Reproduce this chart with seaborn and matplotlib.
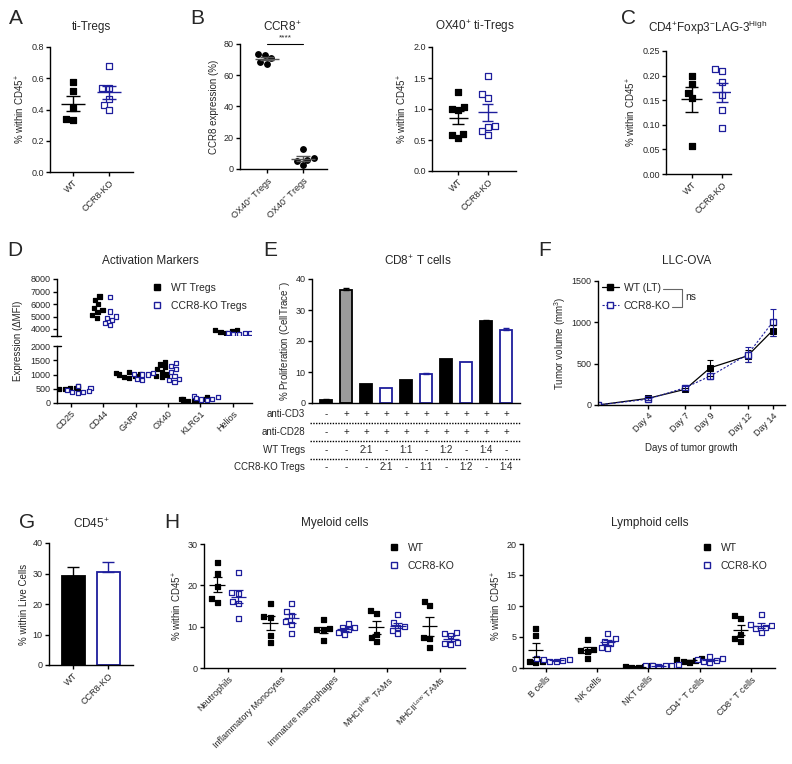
import numpy as np
import pandas as pd
import matplotlib
matplotlib.use("Agg")
import matplotlib.pyplot as plt
from matplotlib.lines import Line2D
from matplotlib.ticker import FormatStrFormatter
from matplotlib.transforms import blended_transform_factory
import seaborn as sns

# ---------------------------------------------------------------- data
GROUPS = ["WT", "CCR8-KO"]

ti_tregs_wt = [0.575, 0.52, 0.41, 0.335, 0.34]
ti_tregs_ko = [0.68, 0.54, 0.535, 0.47, 0.43, 0.40]

ccr8_labels = ["OX40$^{+}$ Tregs", "OX40$^{-}$ Tregs"]
ccr8_pos = [73.5, 72.8, 71.0, 68.5, 67.5]
ccr8_neg = [12.5, 7.0, 6.0, 5.0, 2.5]

ox40_wt = [1.28, 1.04, 0.99, 1.0, 0.58, 0.53, 0.6]
ox40_ko = [1.54, 1.25, 1.18, 0.72, 0.71, 0.65, 0.58]

lag3_wt = [0.199, 0.183, 0.165, 0.154, 0.057]
lag3_ko = [0.213, 0.21, 0.188, 0.16, 0.131, 0.093]

act_markers = ["CD25", "CD44", "GARP", "OX40", "KLRG1", "Helios"]
act_wt = [
    [600, 560, 540, 520, 500, 480, 530, 510],
    [6600, 6350, 6000, 5700, 5550, 5350, 5150, 4900],
    [1100, 1050, 1000, 950, 900, 880, 1000],
    [1450, 1350, 1250, 1200, 1100, 1000, 950, 900],
    [200, 150, 120, 100, 80, 130, 60],
    [3950, 3900, 3800, 3750, 3700],
]
act_ko = [
    [600, 520, 450, 400, 380, 350, 420],
    [6550, 5400, 5000, 4900, 4700, 4500, 4300],
    [1050, 1000, 1000, 1020, 800, 850],
    [1400, 1300, 1200, 1100, 950, 850, 800, 750],
    [250, 200, 180, 150, 120, 100],
    [3650, 3650, 3600, 3650, 3600],
]

prolif_values = [1.0, 36.5, 6.0, 5.0, 7.3, 9.5, 14.3, 13.2, 26.5, 23.5]
prolif_err = [0.2, 0.6, 0, 0, 0, 0.3, 0, 0, 0.3, 0.8]
prolif_kind = ["ctrl", "stim", "wt", "ko", "wt", "ko", "wt", "ko", "wt", "ko"]
table_rows = ["anti-CD3", "anti-CD28", "WT Tregs", "CCR8-KO Tregs"]
anti_cd3 = ["-", "+", "+", "+", "+", "+", "+", "+", "+", "+"]
anti_cd28 = ["-", "+", "+", "+", "+", "+", "+", "+", "+", "+"]
wt_tregs = ["-", "-", "2:1", "-", "1:1", "-", "1:2", "-", "1:4", "-"]
ko_tregs = ["-", "-", "-", "2:1", "-", "1:1", "-", "1:2", "-", "1:4"]

days = [0, 4, 7, 9, 12, 14]
vol_wt = [0, 80, 190, 450, 595, 900]
vol_wt_err = [0, 20, 20, 100, 70, 70]
vol_ko = [0, 70, 210, 350, 610, 1000]
vol_ko_err = [0, 15, 25, 40, 90, 165]

cd45_mean = [29.3, 30.5]
cd45_err = [2.8, 3.2]

myeloid_cells = ["Neutrophils", "Inflammatory Monocytes", "Immature macrophages",
                 "MHCII$^{High}$ TAMs", "MHCII$^{Low}$ TAMs"]
myeloid_wt = [
    [25.5, 22.8, 19.6, 16.7, 15.9],
    [15.5, 12.4, 12.2, 7.9, 6.1],
    [11.7, 9.5, 9.2, 9.0, 6.6],
    [13.9, 13.2, 8.2, 7.3, 6.4],
    [16.0, 15.1, 7.4, 7.1, 4.9],
]
myeloid_ko = [
    [23.2, 18.3, 18.1, 16.2, 15.7, 11.9],
    [15.5, 13.7, 12.8, 11.2, 10.5, 8.3],
    [10.8, 9.9, 9.7, 8.6, 8.0, 9.2],
    [13.0, 11.1, 10.1, 9.9, 9.1, 8.3],
    [8.5, 8.4, 7.9, 6.1, 5.7, 5.9],
]

lymphoid_cells = ["B cells", "NK cells", "NKT cells", "CD4$^{+}$ T cells", "CD8$^{+}$ T cells"]
lymphoid_wt = [
    [6.3, 5.2, 1.1, 1.0, 0.9],
    [4.6, 3.0, 2.8, 2.7, 1.5],
    [0.4, 0.3, 0.2, 0.15, 0.1],
    [1.6, 1.4, 1.2, 1.1, 0.9],
    [8.4, 8.0, 5.4, 4.7, 4.2],
]
lymphoid_ko = [
    [1.5, 1.4, 1.3, 1.2, 1.0, 1.1],
    [5.5, 4.7, 4.3, 4.0, 3.3, 3.1],
    [0.5, 0.45, 0.4, 0.35, 0.3, 0.4],
    [1.9, 1.5, 1.3, 1.2, 1.0, 0.9],
    [8.6, 7.0, 6.8, 6.6, 6.3, 5.8],
]

# ---------------------------------------------------------------- style
BLUE = "#1e1e9c"
FACE = {"ctrl": "black", "stim": "#9b9b9b", "wt": "black", "ko": "white"}
EDGE = {"ctrl": "black", "stim": "black", "wt": "black", "ko": BLUE}

sns.set_style("ticks")
plt.rcParams["font.family"] = ["Liberation Sans", "DejaVu Sans"]
plt.rcParams["mathtext.fontset"] = "custom"
plt.rcParams["mathtext.rm"] = "Liberation Sans"
plt.rcParams["mathtext.it"] = "Liberation Sans:italic"
plt.rcParams["mathtext.bf"] = "Liberation Sans:bold"
plt.rcParams["mathtext.default"] = "regular"

W, H = 792, 764
fig = plt.figure(figsize=(W / 100, H / 100), dpi=100)


def box(x0, y0, x1, y1):
    # pixel rectangle (top-left origin) -> figure fraction
    return [x0 / W, 1 - y1 / H, (x1 - x0) / W, (y1 - y0) / H]


def ftext(x, y, s, **kw):
    kw.setdefault("ha", "center")
    kw.setdefault("va", "center")
    fig.text(x / W, 1 - y / H, s, **kw)


def fline(xs, ys, **kw):
    fig.add_artist(Line2D([x / W for x in xs], [1 - y / H for y in ys], **kw))


def prism(ax, ylim, yticks, xlim=None):
    sns.despine(ax=ax)
    ax.set_ylim(*ylim)
    ax.set_yticks(yticks)
    if xlim is not None:
        ax.set_xlim(*xlim)
    ax.set_xlabel("")
    ax.tick_params(axis="both", length=3, width=1, labelsize=6.5, pad=1.5, color="black")
    for s in ("left", "bottom"):
        ax.spines[s].set_linewidth(1.0)
        ax.spines[s].set_color("black")


def rot(ax):
    plt.setp(ax.get_xticklabels(), rotation=45, ha="right", rotation_mode="anchor")


def mean_sem(ax, x, vals, color, half=0.33, cap=0.2, lw=1.0):
    m = np.mean(vals)
    s = np.std(vals, ddof=1) / np.sqrt(len(vals))
    ax.hlines(m, x - half, x + half, color=color, lw=lw, zorder=5)
    ax.vlines(x, m - s, m + s, color=color, lw=lw, zorder=5)
    ax.hlines([m - s, m + s], x - cap, x + cap, color=color, lw=lw, zorder=5)


def group_swarm(ax, labels, first, second, marker="s", open_second=True,
                size=3.8, mean_colors=("black", BLUE)):
    styles = [("black", "black"), ("white", BLUE) if open_second else ("black", "black")]
    df = pd.DataFrame({"grp": [labels[0]] * len(first) + [labels[1]] * len(second),
                       "val": list(first) + list(second)})
    for lab, (face, edge) in zip(labels, styles):
        sns.swarmplot(data=df[df.grp == lab], x="grp", y="val", order=labels,
                      color=face, edgecolor=edge, linewidth=0.9, marker=marker,
                      size=size, ax=ax)
    for i, vals in enumerate([first, second]):
        mean_sem(ax, i, vals, mean_colors[i])
    ax.set_ylabel("")


def long_df(cats, wt, ko):
    rows = []
    for c, a, b in zip(cats, wt, ko):
        rows += [(c, "WT", v) for v in a] + [(c, "CCR8-KO", v) for v in b]
    return pd.DataFrame(rows, columns=["cat", "grp", "val"])


def dodged_swarm(ax, df, cats, size=3.2):
    for grp, face, edge in [("WT", "black", "black"), ("CCR8-KO", "white", BLUE)]:
        sub = df[df.grp == grp]
        if sub.empty:
            continue
        sns.swarmplot(data=sub, x="cat", y="val", hue="grp", order=cats,
                      hue_order=GROUPS, palette={g: face for g in GROUPS},
                      dodge=True, marker="s", size=size, linewidth=0.9,
                      edgecolor=edge, legend=False, ax=ax)
    ax.set_ylabel("")


def square_legend(ax, x, y, labels, fontsize=7.5):
    handles = [Line2D([], [], marker="s", color="black", linestyle="none", markersize=4.3),
               Line2D([], [], marker="s", color=BLUE, markerfacecolor="white",
                      markeredgewidth=1, linestyle="none", markersize=4.3)]
    ax.legend(handles, labels, loc="upper left", bbox_to_anchor=(x / W, 1 - y / H),
              bbox_transform=fig.transFigure, frameon=False, fontsize=fontsize,
              handlelength=0.8, handletextpad=0.9, labelspacing=0.75,
              borderpad=0, borderaxespad=0)


TITLE = dict(fontsize=8.5)
LETTER = dict(fontsize=15)
YL = dict(fontsize=7, labelpad=3)

# ---------------------------------------------------------------- A
axA = fig.add_axes(box(50, 47, 133, 172))
group_swarm(axA, GROUPS, ti_tregs_wt, ti_tregs_ko)
prism(axA, (0, 0.8), np.arange(0, 0.81, 0.2), (-0.64, 1.67))
axA.yaxis.set_major_formatter(FormatStrFormatter("%.1f"))
rot(axA)
axA.set_ylabel("% within CD45$^{+}$", **YL)
ftext(91, 27, "ti-Tregs", **TITLE)
ftext(16, 19, "A", **LETTER)

# ---------------------------------------------------------------- B
axB1 = fig.add_axes(box(240, 44, 327, 169))
group_swarm(axB1, ccr8_labels, ccr8_pos, ccr8_neg, marker="o", open_second=False,
            size=4.0, mean_colors=("#555555", "#555555"))
prism(axB1, (0, 80), np.arange(0, 81, 20), (-0.75, 1.67))
rot(axB1)
axB1.set_ylabel("CCR8 expression (%)", **YL)
axB1.plot([0, 1], [80, 80], color="black", lw=0.8, clip_on=False)
axB1.text(0.5, 81.5, "****", ha="center", va="bottom", fontsize=6)
ftext(282, 27, "CCR8$^{+}$", **TITLE)
ftext(197, 19, "B", **LETTER)

axB2 = fig.add_axes(box(432, 47, 516, 171))
group_swarm(axB2, GROUPS, ox40_wt, ox40_ko)
prism(axB2, (0, 2.0), np.arange(0, 2.01, 0.5), (-0.9, 1.97))
axB2.yaxis.set_major_formatter(FormatStrFormatter("%.1f"))
rot(axB2)
axB2.set_ylabel("% within CD45$^{+}$", **YL)
ftext(475, 27, "OX40$^{+}$ ti-Tregs", **TITLE)

# ---------------------------------------------------------------- C
axC = fig.add_axes(box(666, 51, 731, 174))
group_swarm(axC, GROUPS, lag3_wt, lag3_ko)
prism(axC, (0, 0.25), np.arange(0, 0.251, 0.05), (-0.84, 1.3))
axC.yaxis.set_major_formatter(FormatStrFormatter("%.2f"))
rot(axC)
axC.set_ylabel("% within CD45$^{+}$", **YL)
ftext(708, 28, "CD4$^{+}$Foxp3$^{-}$LAG-3$^{High}$", **TITLE)
ftext(628, 19, "C", **LETTER)

# ---------------------------------------------------------------- D
df_act = long_df(act_markers, act_wt, act_ko)
axDu = fig.add_axes(box(57, 279, 252, 336))
axDl = fig.add_axes(box(57, 346, 252, 403))
dodged_swarm(axDu, df_act[df_act.val > 3000], act_markers, size=3.0)
dodged_swarm(axDl, df_act[df_act.val < 3000], act_markers, size=3.0)
prism(axDu, (3440, 8000), np.arange(4000, 8001, 1000), (-0.44, 5.6))
prism(axDl, (0, 2000), np.arange(0, 2001, 500), (-0.44, 5.6))
sns.despine(ax=axDu, bottom=True)
axDu.set_xticks([])
rot(axDl)
axDu.plot([-0.03, 0.02], [0, 0], transform=axDu.transAxes, color="black", lw=1, clip_on=False)
axDl.plot([0.0, 0.02], [1, 1], transform=axDl.transAxes, color="black", lw=1, clip_on=False)
ftext(18, 341, "Expression (ΔMFI)", rotation=90, fontsize=7)
square_legend(axDu, 153, 283, ["WT Tregs", "CCR8-KO Tregs"])
ftext(150, 261, "Activation Markers", **TITLE)
ftext(15, 251, "D", **LETTER)

# ---------------------------------------------------------------- E
axE = fig.add_axes(box(312, 279, 520, 403))
ids = [str(i) for i in range(len(prolif_values))]
sns.barplot(x=ids, y=prolif_values, hue=ids, palette=[FACE[k] for k in prolif_kind],
            width=0.62, legend=False, ax=axE)
for patch, k in zip(axE.patches, prolif_kind):
    patch.set_edgecolor(EDGE[k])
    patch.set_linewidth(1.3)
for i, (v, e, k) in enumerate(zip(prolif_values, prolif_err, prolif_kind)):
    if e > 0:
        axE.errorbar(i, v, yerr=[[0], [e]], fmt="none", ecolor=EDGE[k],
                     capsize=2.5, elinewidth=1, capthick=1)
prism(axE, (0, 40), np.arange(0, 41, 10), (-0.7, 9.7))
axE.set_xticks([])
axE.set_ylabel("% Proliferation (CellTrace$^{-}$)", **YL)
trans = blended_transform_factory(axE.transData, fig.transFigure)
for label, cells, y in zip(table_rows, [anti_cd3, anti_cd28, wt_tregs, ko_tregs],
                           [414, 432, 450, 467]):
    ftext(305, y, label, ha="right", fontsize=7)
    for i, c in enumerate(cells):
        axE.text(i, 1 - y / H, c, transform=trans, ha="center", va="center", fontsize=7)
for y in [423, 441, 459]:
    fline([310, 520], [y, y], color="black", lw=1, linestyle=(0, (1, 1)))
ftext(418, 261, "CD8$^{+}$ T cells", **TITLE)
ftext(270, 251, "E", **LETTER)

# ---------------------------------------------------------------- F
axF = fig.add_axes(box(598, 281, 785, 405))
sns.lineplot(x=days, y=vol_wt, color="black", marker="s", markersize=4,
             markeredgecolor="black", linewidth=0.9, errorbar=None, ax=axF)
sns.lineplot(x=days, y=vol_ko, color=BLUE, marker="s", markersize=4.5,
             markerfacecolor="white", markeredgecolor=BLUE, markeredgewidth=1,
             linestyle=(0, (2, 1.5)), linewidth=0.8, errorbar=None, ax=axF)
axF.errorbar(days, vol_wt, yerr=vol_wt_err, fmt="none", ecolor="black",
             capsize=2, elinewidth=0.8, capthick=0.8)
axF.errorbar(days, vol_ko, yerr=vol_ko_err, fmt="none", ecolor=BLUE,
             capsize=2, elinewidth=0.8, capthick=0.8)
prism(axF, (0, 1500), [0, 500, 1000, 1500], (0, 15))
axF.set_xticks(days[1:], [f"Day {d}" for d in days[1:]])
rot(axF)
axF.set_ylabel("Tumor volume (mm$^{3}$)", **YL)
axF.set_xlabel("Days of tumor growth", fontsize=7, labelpad=4)
f_handles = [Line2D([], [], color="black", marker="s", markersize=4, lw=0.9),
             Line2D([], [], color=BLUE, marker="s", markersize=4.5, lw=0.8,
                    markerfacecolor="white", markeredgewidth=1, linestyle=(0, (2, 1.5)))]
axF.legend(f_handles, ["WT (LT)", "CCR8-KO"], loc="upper left",
           bbox_to_anchor=(602 / W, 1 - 283 / H), bbox_transform=fig.transFigure,
           frameon=False, fontsize=7.5, handlelength=1.6, handletextpad=0.5,
           labelspacing=0.75, borderpad=0, borderaxespad=0)
fline([663, 682, 682, 672], [289, 289, 307, 307], color="#666666", lw=0.8)
ftext(685, 297, "ns", ha="left", fontsize=7.5)
ftext(687, 261, "LLC-OVA", **TITLE)
ftext(545, 251, "F", **LETTER)

# ---------------------------------------------------------------- G
axG = fig.add_axes(box(49, 543, 133, 665))
sns.barplot(x=GROUPS, y=cd45_mean, hue=GROUPS, palette=["black", "white"],
            width=0.66, legend=False, ax=axG)
for patch, edge in zip(axG.patches, ["black", BLUE]):
    patch.set_edgecolor(edge)
    patch.set_linewidth(1.3)
for i, (v, e, edge) in enumerate(zip(cd45_mean, cd45_err, ["black", BLUE])):
    axG.errorbar(i, v, yerr=[[0], [e]], fmt="none", ecolor=edge,
                 capsize=4, elinewidth=1, capthick=1)
prism(axG, (0, 40), np.arange(0, 41, 10), (-0.69, 1.71))
rot(axG)
axG.set_ylabel("% within Live Cells", **YL)
ftext(91, 524, "CD45$^{+}$", **TITLE)
ftext(27, 523, "G", **LETTER)

# ---------------------------------------------------------------- H
for (x0, x1, cats, wt, ko, ymax, step, title, tx, lx) in [
        (204, 465, myeloid_cells, myeloid_wt, myeloid_ko, 30, 10, "Myeloid cells", 335, 390),
        (523, 775, lymphoid_cells, lymphoid_wt, lymphoid_ko, 20, 5, "Lymphoid cells", 650, 703)]:
    ax = fig.add_axes(box(x0, 544, x1, 668))
    dodged_swarm(ax, long_df(cats, wt, ko), cats, size=3.6)
    for i, (a, b) in enumerate(zip(wt, ko)):
        mean_sem(ax, i - 0.2, a, "black", half=0.15, cap=0.08, lw=0.9)
        mean_sem(ax, i + 0.2, b, BLUE, half=0.15, cap=0.08, lw=0.9)
    prism(ax, (0, ymax), np.arange(0, ymax + 1, step), (-0.45, 4.47))
    rot(ax)
    ax.set_ylabel("% within CD45$^{+}$", **YL)
    square_legend(ax, lx, 543, ["WT", "CCR8-KO"])
    ftext(tx, 523, title, **TITLE)
ftext(172, 523, "H", **LETTER)

fig.savefig("out.png", dpi=100)
